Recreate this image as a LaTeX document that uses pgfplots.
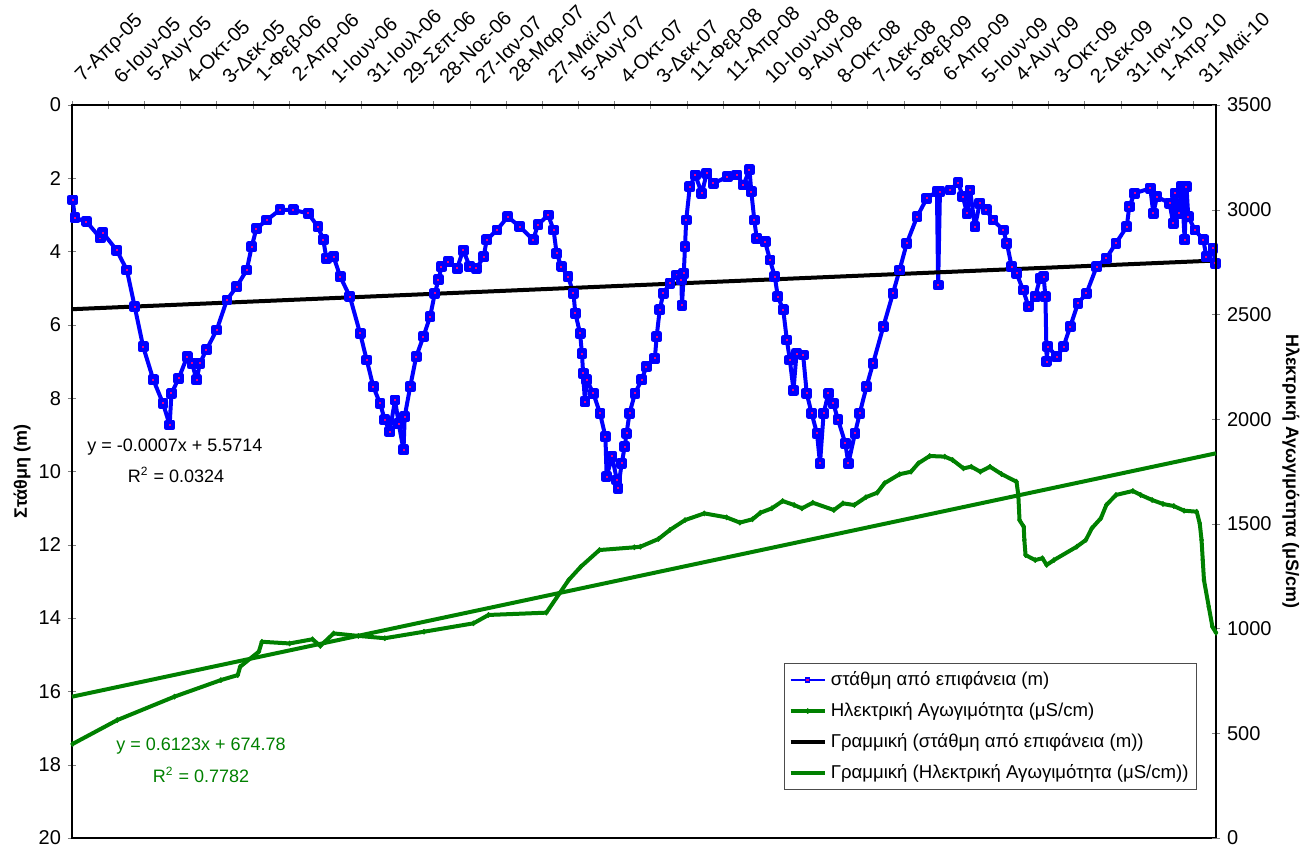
\documentclass[border=0pt]{standalone}
\usepackage{pgfplots}
\pgfplotsset{compat=1.18}
\usepackage{fontspec}
\setmainfont{Liberation Sans}
\definecolor{xlgreen}{RGB}{0,128,0}
\newcommand{\fs}{\fontsize{10}{12}\selectfont}
\newcommand{\fl}{\fontsize{9.3}{11}\selectfont}
\newcommand{\fe}{\fontsize{9}{11}\selectfont}

\begin{document}
\begin{tikzpicture}
\useasboundingbox (-36pt,-5pt) rectangle (616.5pt,419pt);
\begin{axis}[
    scale only axis,
    width=572pt, height=366.5pt,
    xmin=0, xmax=1898,
    ymin=0, ymax=20, y dir=reverse,
    xtick={0,60,...,1860},
    xticklabels={7-Απρ-05,6-Ιουν-05,5-Αυγ-05,4-Οκτ-05,3-Δεκ-05,1-Φεβ-06,2-Απρ-06,1-Ιουν-06,31-Ιουλ-06,29-Σεπ-06,28-Νοε-06,27-Ιαν-07,28-Μαρ-07,27-Μαϊ-07,5-Αυγ-07,4-Οκτ-07,3-Δεκ-07,11-Φεβ-08,11-Απρ-08,10-Ιουν-08,9-Αυγ-08,8-Οκτ-08,7-Δεκ-08,5-Φεβ-09,6-Απρ-09,5-Ιουν-09,4-Αυγ-09,3-Οκτ-09,2-Δεκ-09,31-Ιαν-10,1-Απρ-10,31-Μαϊ-10},
    xticklabel pos=upper, xtick pos=upper,
    xticklabel style={xshift=7pt, yshift=7pt, rotate=45, anchor=south west, font=\fs, inner sep=0.5pt},
    ytick={0,2,...,20}, ytick pos=left,
    yticklabel style={font=\fs},
    tick align=center, major tick length=4pt,
    /pgf/number format/assume math mode=true,
    ylabel={\bfseries Στάθμη (m)},
    ylabel style={font=\fe, at={(axis description cs:-0.0437,0.5)}, anchor=center},
    axis line style={line width=0.7pt},
    clip=false,
]
\addplot[blue, line width=2pt, line join=round, mark=square*, mark size=1.6pt,
    mark options={draw=blue, fill=magenta, line width=2.2pt}]
coordinates {
(1,2.59)(5,3.08)(24,3.18)(47,3.63)(51,3.48)(74,3.96)(91,4.50)(104,5.50)(118,6.59)(135,7.50)(151,8.14)(162,8.73)(165,7.87)(177,7.46)(191,6.87)(199,7.05)(207,7.50)(212,7.05)(223,6.68)(240,6.14)(257,5.32)(273,4.96)(290,4.50)(298,3.87)(306,3.37)(323,3.14)(345,2.86)(367,2.86)(392,2.96)(408,3.32)(417,3.68)(422,4.18)(434,4.14)(445,4.68)(461,5.23)(478,6.23)(489,6.96)(500,7.69)(511,8.14)(519,8.59)(527,8.91)(536,8.05)(542,8.69)(550,9.41)(552,8.50)(561,7.69)(571,6.87)(583,6.32)(594,5.78)(602,5.14)(608,4.77)(613,4.41)(624,4.27)(639,4.45)(649,3.96)(660,4.41)(671,4.46)(683,4.14)(688,3.68)(705,3.41)(723,3.05)(743,3.32)(765,3.68)(773,3.27)(790,3.00)(799,3.41)(804,4.05)(812,4.41)(823,4.68)(832,5.14)(835,5.68)(843,6.23)(846,6.78)(848,7.32)(851,8.09)(854,7.50)(865,7.87)(876,8.41)(885,9.05)(887,10.14)(896,9.59)(904,10.23)(906,10.46)(912,9.78)(917,9.32)(920,8.96)(925,8.41)(934,7.87)(945,7.50)(953,7.14)(967,6.91)(970,6.32)(975,5.59)(981,5.14)(992,4.86)(1003,4.64)(1011,4.77)(1012,5.46)(1015,4.59)(1017,3.87)(1019,3.14)(1025,2.23)(1034,1.91)(1045,2.41)(1053,1.86)(1064,2.14)(1087,1.96)(1103,1.91)(1114,2.18)(1124,1.77)(1127,2.36)(1132,3.14)(1136,3.64)(1150,3.73)(1158,4.23)(1166,4.68)(1171,5.23)(1180,5.59)(1186,6.41)(1191,6.96)(1197,7.78)(1202,6.78)(1213,6.82)(1219,7.87)(1227,8.41)(1236,8.96)(1241,9.78)(1247,8.41)(1255,7.87)(1263,8.14)(1271,8.59)(1283,9.23)(1288,9.78)(1299,8.96)(1307,8.41)(1318,7.69)(1329,7.05)(1346,6.05)(1362,5.14)(1373,4.50)(1385,3.77)(1402,3.05)(1418,2.55)(1435,2.36)(1437,4.91)(1440,2.36)(1457,2.32)(1470,2.12)(1478,2.50)(1485,2.96)(1490,2.32)(1498,3.32)(1506,2.68)(1517,2.86)(1528,3.14)(1545,3.41)(1551,3.77)(1559,4.41)(1567,4.59)(1578,5.05)(1587,5.50)(1598,5.23)(1606,4.73)(1612,4.68)(1615,5.23)(1617,7.00)(1619,6.59)(1634,6.87)(1645,6.59)(1656,6.05)(1669,5.41)(1683,5.14)(1700,4.41)(1716,4.18)(1732,3.77)(1750,3.32)(1754,2.77)(1763,2.41)(1789,2.27)(1794,2.96)(1800,2.50)(1821,2.68)(1827,3.23)(1830,2.41)(1836,2.96)(1841,2.21)(1846,3.68)(1849,2.23)(1852,3.05)(1863,3.41)(1877,3.68)(1882,4.14)(1893,3.91)(1897,4.32)
};
% linear trend of the level
\addplot[black, line width=2pt] coordinates {(0,5.5714)(1898,4.2428)};
\node[font=\fe, anchor=center] at (axis description cs:0.090,0.5334) {y = -0.0007x + 5.5714};
\node[font=\fe, anchor=center] at (axis description cs:0.091,0.4952) {R\textsuperscript{2} = 0.0324};
\end{axis}

\begin{axis}[
    scale only axis,
    width=572pt, height=366.5pt,
    xmin=0, xmax=1898,
    ymin=0, ymax=3500,
    axis x line=none,
    axis y line*=right,
    ytick={0,500,...,3500},
    yticklabel style={font=\fs},
    tick align=center, major tick length=4pt,
    /pgf/number format/assume math mode=true,
    /pgf/number format/1000 sep={},
    ylabel={\bfseries Ηλεκτρική Αγωγιμότητα (μS/cm)},
    ylabel style={font=\fe, at={(axis description cs:1.0656,0.5)}, anchor=center, rotate=180},
    axis line style={line width=0.7pt},
    legend style={at={(rel axis cs:0.9834,0.0655)}, anchor=south east,
        font=\fl, draw=black!70, fill=white, row sep=3pt, inner xsep=2pt, inner ysep=2pt},
    legend cell align=left,
    clip=false,
]
\addlegendimage{blue, line width=0.8pt, mark=square*, mark size=1pt, mark options={draw=blue, fill=magenta, line width=0.6pt}}
\addlegendentry{στάθμη από επιφάνεια (m)}
\addplot[xlgreen, line width=2pt, line join=round, mark=diamond*, mark size=1.2pt, mark options={fill=xlgreen, line width=0.5pt}]
coordinates {
(1,449)(75,563)(170,675)(247,754)(275,778)(279,818)(310,890)(315,937)(361,929)(399,949)(412,917)(434,977)(475,965)(519,954)(584,985)(666,1025)(691,1065)(787,1076)(824,1232)(844,1295)(875,1375)(933,1388)(943,1391)(973,1428)(992,1471)(1017,1518)(1049,1550)(1086,1531)(1108,1506)(1129,1522)(1142,1553)(1161,1574)(1179,1609)(1198,1590)(1211,1574)(1229,1601)(1264,1566)(1279,1598)(1298,1590)(1317,1627)(1336,1649)(1348,1694)(1373,1737)(1392,1749)(1404,1789)(1423,1824)(1448,1821)(1461,1805)(1479,1765)(1492,1773)(1507,1749)(1523,1773)(1542,1738)(1567,1701)(1570,1638)(1572,1518)(1579,1486)(1580,1423)(1582,1351)(1598,1327)(1610,1336)(1617,1304)(1629,1327)(1667,1391)(1682,1423)(1692,1479)(1707,1527)(1716,1590)(1732,1638)(1760,1657)(1773,1638)(1792,1614)(1810,1595)(1828,1585)(1845,1563)(1866,1558)(1871,1502)(1874,1423)(1876,1327)(1878,1232)(1886,1104)(1892,1009)(1898,980)
};
\addlegendentry{Ηλεκτρική Αγωγιμότητα (μS/cm)}
\addlegendimage{black, line width=2pt}
\addlegendentry{Γραμμική (στάθμη από επιφάνεια (m))}
% linear trend of the conductivity
\addplot[xlgreen, line width=2pt] coordinates {(0,674.78)(1898,1836.93)};
\addlegendentry{Γραμμική (Ηλεκτρική Αγωγιμότητα (μS/cm))}
\node[font=\fe, text=xlgreen, anchor=center] at (axis description cs:0.1128,0.1255) {y = 0.6123x + 674.78};
\node[font=\fe, text=xlgreen, anchor=center] at (axis description cs:0.1128,0.086) {R\textsuperscript{2} = 0.7782};
\end{axis}
\end{tikzpicture}
\end{document}
